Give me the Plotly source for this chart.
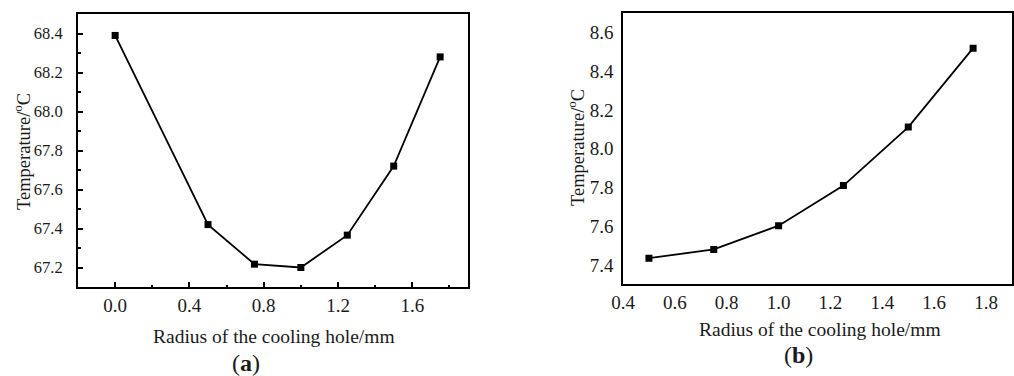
import plotly.graph_objects as go

# Data
radius_a = [0.0, 0.5, 0.75, 1.0, 1.25, 1.5, 1.75]
temp_a = [68.39, 67.42, 67.217, 67.20, 67.366, 67.72, 68.28]
radius_b = [0.5, 0.75, 1.0, 1.25, 1.5, 1.75]
temp_b = [7.435, 7.48, 7.603, 7.81, 8.112, 8.52]

xticks_a = [0.0, 0.4, 0.8, 1.2, 1.6]
yticks_a = [67.2, 67.4, 67.6, 67.8, 68.0, 68.2, 68.4]
xticks_b = [0.4, 0.6, 0.8, 1.0, 1.2, 1.4, 1.6, 1.8]
yticks_b = [7.4, 7.6, 7.8, 8.0, 8.2, 8.4, 8.6]

FONT = "Liberation Serif"
TXT = "#1a1a1a"
W, H = 1014, 376

fig = go.Figure()
fig.add_trace(go.Scatter(x=radius_a, y=temp_a, mode="lines+markers",
                         line=dict(color="black", width=1.8),
                         marker=dict(symbol="square", size=7, color="black"),
                         xaxis="x", yaxis="y", showlegend=False))
fig.add_trace(go.Scatter(x=radius_b, y=temp_b, mode="lines+markers",
                         line=dict(color="black", width=1.8),
                         marker=dict(symbol="square", size=7, color="black"),
                         xaxis="x2", yaxis="y2", showlegend=False))

common = dict(showline=True, linecolor="black", mirror=True, showgrid=False,
              zeroline=False, automargin=False)

fig.update_layout(
    width=W, height=H, margin=dict(l=0, r=0, t=0, b=0, autoexpand=False),
    paper_bgcolor="white", plot_bgcolor="white",
    xaxis=dict(domain=[78 / W, 468 / W], range=[-0.2, 1.9], tickvals=xticks_a,
               ticktext=[f"{v:.1f}" for v in xticks_a], ticks="inside", ticklen=5,
               tickwidth=1.5, tickcolor="black", linewidth=2,
               minor=dict(tickvals=[0.2, 0.6, 1.0, 1.4, 1.8], ticks="inside", ticklen=2.5,
                          tickwidth=1.5, tickcolor="black"),
               tickfont=dict(family=FONT, size=19, color=TXT),
               anchor="y", ticklabelstandoff=0, **common),
    yaxis=dict(domain=[1 - 287 / H, 1 - 14 / H], range=[67.1, 68.5], tickvals=yticks_a,
               ticktext=[f"{v:.1f}" for v in yticks_a], ticks="inside", ticklen=5,
               tickwidth=1.5, tickcolor="black", linewidth=2,
               minor=dict(tickvals=[67.1 + 0.2 * i for i in range(7)], ticks="inside",
                          ticklen=2.5, tickwidth=1.5, tickcolor="black"),
               tickfont=dict(family=FONT, size=16.5, color=TXT),
               anchor="x", ticklabelstandoff=10, **common),
    xaxis2=dict(domain=[623 / W, 1012 / W], range=[0.4, 1.9], tickvals=xticks_b,
                ticktext=[f"{v:.1f}" for v in xticks_b], ticks="", linewidth=1.5,
                tickfont=dict(family=FONT, size=19, color=TXT),
                anchor="y2", ticklabelstandoff=0, **common),
    yaxis2=dict(domain=[1 - 284.3 / H, 1 - 13.3 / H], range=[7.3, 8.7], tickvals=yticks_b,
                ticktext=[f"{v:.1f}" for v in yticks_b], ticks="", linewidth=1.5,
                tickfont=dict(family=FONT, size=19, color=TXT),
                anchor="x2", ticklabelstandoff=4, **common),
)

def ann(text, x, y, size, angle=0):
    fig.add_annotation(text=text, x=x / W, y=1 - y / H, xref="paper", yref="paper",
                       showarrow=False, textangle=angle, xanchor="center", yanchor="middle",
                       font=dict(family=FONT, size=size, color=TXT))

ann("Temperature/<sup>o</sup>C", 22, 152, 18.5, -90)
ann("Temperature/<sup>o</sup>C", 576, 148, 18.5, -90)
ann("Radius of the cooling hole/mm", 273.5, 336, 19.5)
ann("Radius of the cooling hole/mm", 820, 329, 19.5)
ann("(<b>a</b>)", 246, 363, 24)
ann("(<b>b</b>)", 798, 355, 24)

fig.write_html("out.html")
